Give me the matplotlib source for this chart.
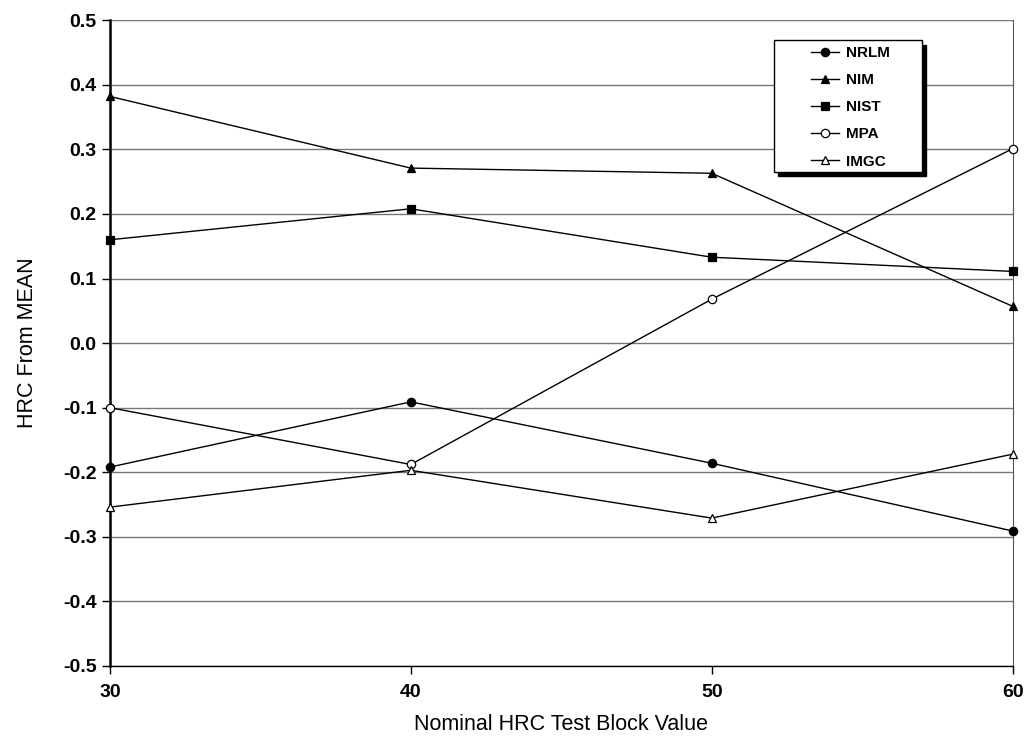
import matplotlib.pyplot as plt
from matplotlib.patches import Rectangle

plt.rcParams['font.family'] = ['Liberation Sans', 'DejaVu Sans']

# Datos
hrc = [30, 40, 50, 60]
nrlm = [-0.192, -0.091, -0.186, -0.291]
nim = [0.382, 0.271, 0.263, 0.057]
nist = [0.160, 0.208, 0.133, 0.111]
mpa = [-0.100, -0.188, 0.068, 0.301]
imgc = [-0.254, -0.197, -0.271, -0.172]

series = [
    ("NRLM", nrlm, "o", "black"),
    ("NIM", nim, "^", "black"),
    ("NIST", nist, "s", "black"),
    ("MPA", mpa, "o", "white"),
    ("IMGC", imgc, "^", "white"),
]

fig = plt.figure(figsize=(10.27, 7.38), dpi=100)
ax = fig.add_axes([0.107, 0.0976, 0.879, 0.875])

for name, vals, mk, fc in series:
    ax.plot(hrc, vals, color="black", lw=1, marker=mk, markersize=6,
            markerfacecolor=fc, markeredgecolor="black", markeredgewidth=0.9,
            label=name, clip_on=False, zorder=3)

ax.set_xlim(30, 60)
ax.set_ylim(-0.5, 0.5)
ax.set_xticks(hrc)
ax.set_yticks([i / 10 for i in range(-5, 6)])
ax.set_yticklabels([f"{i / 10:.1f}" for i in range(-5, 6)])
ax.grid(axis="y", color="#777777", lw=1)
ax.set_axisbelow(True)

ax.spines["top"].set_visible(False)
ax.spines["left"].set_linewidth(1.8)
ax.spines["bottom"].set_linewidth(1)
ax.spines["right"].set_linewidth(0.8)
ax.spines["right"].set_color("#555555")

ax.tick_params(axis="both", labelsize=14, length=6, width=1, direction="out")
ax.tick_params(axis="x", pad=7)
for lbl in ax.get_xticklabels() + ax.get_yticklabels():
    lbl.set_fontweight("bold")

ax.set_xlabel("Nominal HRC Test Block Value", fontsize=15.5, labelpad=9)
ax.set_ylabel("HRC From MEAN", fontsize=15.5, labelpad=18)

# Caja de la leyenda con sombra
ax.add_patch(Rectangle((0.740, 0.758), 0.164, 0.204, transform=ax.transAxes,
                       facecolor="black", edgecolor="black", zorder=4))
ax.add_patch(Rectangle((0.736, 0.765), 0.164, 0.204, transform=ax.transAxes,
                       facecolor="white", edgecolor="black", lw=1, zorder=5))

leg = ax.legend(loc="upper left", bbox_to_anchor=(0.777, 0.96), frameon=False,
                borderpad=0, borderaxespad=0, handlelength=1.8,
                handletextpad=0.45, labelspacing=0.86,
                prop={"weight": "bold", "size": 11})
leg.set_zorder(6)

fig.savefig("out.png", dpi=100)
